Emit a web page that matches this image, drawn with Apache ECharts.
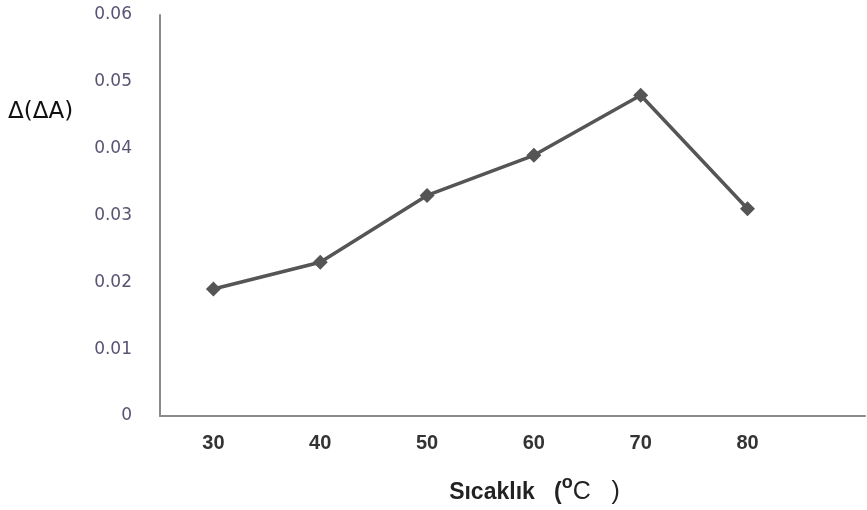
<!DOCTYPE html>
<html><head><meta charset="utf-8">
<script src="https://cdn.jsdelivr.net/npm/echarts@6/dist/echarts.min.js"></script>
<style>html,body{margin:0;padding:0;background:#fff}#c{width:867px;height:510px}</style>
</head><body><div id="c"></div>
<script>
const temperatures = [30, 40, 50, 60, 70, 80];
const deltaValues = [0.019, 0.023, 0.033, 0.039, 0.048, 0.031];
const yTicks = [0, 0.01, 0.02, 0.03, 0.04, 0.05, 0.06];

const chart = echarts.init(document.getElementById('c'), null, {renderer: 'canvas'});
chart.setOption({
  animation: false,
  grid: {left: 160, right: 2, top: 15, bottom: 94, containLabel: false, outerBoundsMode: 'none'},
  xAxis: {
    type: 'value', min: 25, max: 91, interval: 5,
    axisLine: {show: true, onZero: false, lineStyle: {color: '#8a8a8a', width: 2}},
    axisTick: {show: false},
    splitLine: {show: false},
    axisLabel: {
      margin: 17, color: '#333', fontFamily: 'Liberation Sans', fontWeight: 'bold', fontSize: 20,
      showMinLabel: false, showMaxLabel: false,
      formatter: v => temperatures.includes(v) ? String(v) : ''
    },
    name: '{t|Sıcaklık   (}{s|o}{c|C   )}',
    nameLocation: 'middle', nameGap: 54,
    nameTextStyle: {
      padding: [0, 0, 0, 44],
      rich: {
        t: {fontFamily: 'Liberation Sans', fontWeight: 'bold', fontSize: 23, color: '#222', padding: [10,0,0,0]},
        s: {fontFamily: 'Liberation Sans', fontWeight: 'bold', fontSize: 18, color: '#222', padding: [0,0,8,0]},
        c: {fontFamily: 'Liberation Sans', fontSize: 25, color: '#222', padding: [10,0,0,0]}
      }
    }
  },
  yAxis: {
    type: 'value', min: 0, max: 0.06, interval: 0.01,
    axisLine: {show: true, lineStyle: {color: '#8a8a8a', width: 2}},
    axisTick: {show: false},
    splitLine: {show: false},
    axisLabel: {
      margin: 28, color: '#5a5272', fontFamily: 'DejaVu Sans', fontSize: 17,
      formatter: v => { const t = yTicks.find(x => Math.abs(x - v) < 1e-9); return t === 0 ? '0' : t.toFixed(2); }
    }
  },
  graphic: [{
    type: 'text', left: 8, top: 101,
    style: {text: 'Δ(ΔA)', font: '23px "DejaVu Sans"', fill: '#111'}
  }],
  series: [{
    type: 'line',
    data: temperatures.map((t, i) => [t, deltaValues[i]]),
    symbol: 'diamond', symbolSize: 15,
    lineStyle: {color: '#555', width: 3.5},
    itemStyle: {color: '#555'}
  }]
});
</script></body></html>
